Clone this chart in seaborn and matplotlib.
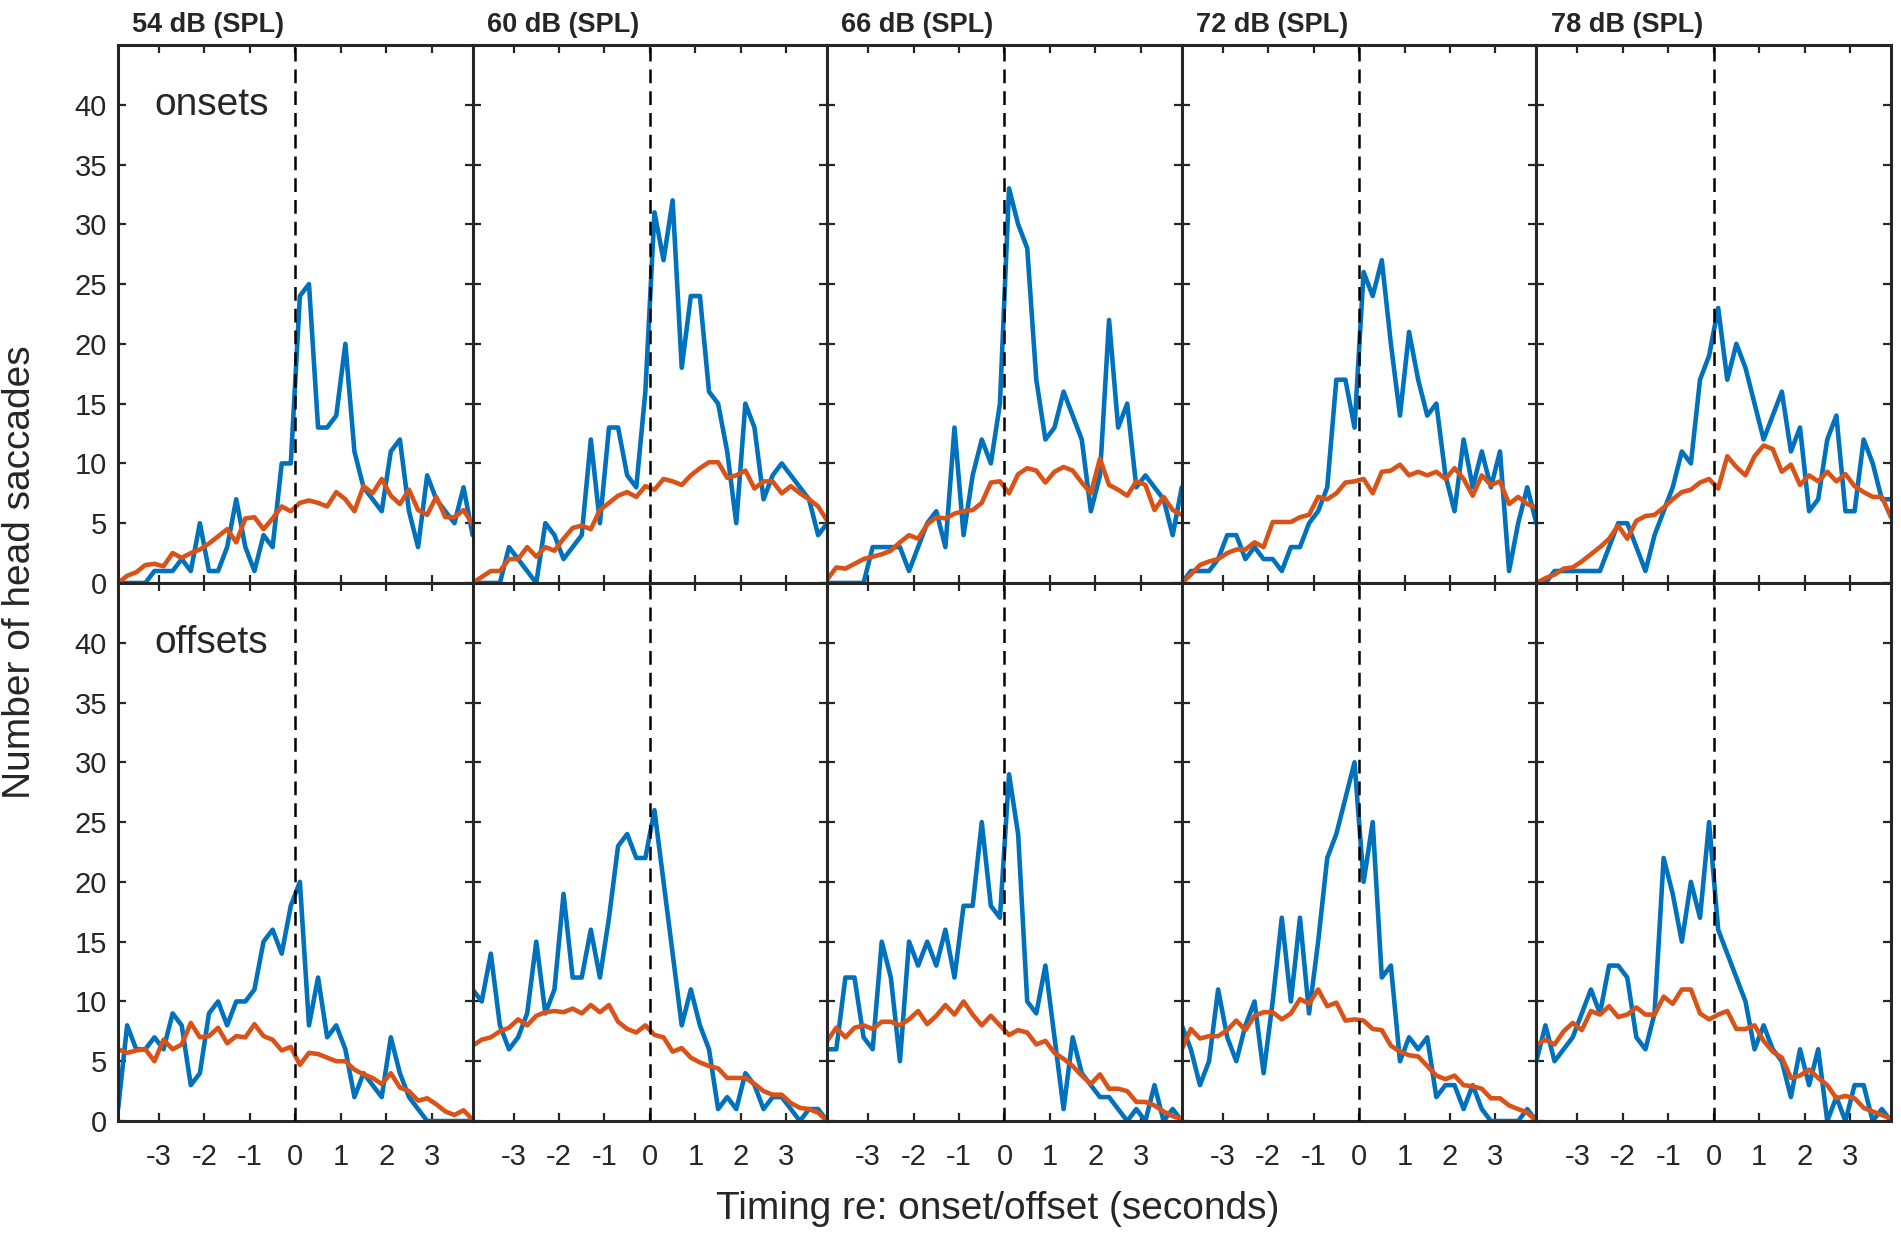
import numpy as np
import pandas as pd
import matplotlib
matplotlib.use("Agg")
import matplotlib.pyplot as plt
import seaborn as sns

# sound levels (one column each)
levels = ["54 dB (SPL)", "60 dB (SPL)", "66 dB (SPL)", "72 dB (SPL)", "78 dB (SPL)"]
row_names = ["onsets", "offsets"]

# bin centres, seconds re onset/offset
time_bins = np.round(np.arange(-3.9, 3.95, 0.2), 1)
x_ticks = [-3, -2, -1, 0, 1, 2, 3]
y_ticks = [0, 5, 10, 15, 20, 25, 30, 35, 40]

# onsets, observed counts (blue)
onset_blue_54 = [0, 0, 0, 0, 1, 1, 1, 2, 1, 5, 1, 1, 3, 7, 3, 1, 4, 3, 10, 10,
                 24, 25, 13, 13, 14, 20, 11, 8, 7, 6, 11, 12, 6, 3, 9, 7, 6, 5, 8, 4]
onset_blue_60 = [0, 0, 0, 0, 3, 2, 1, 0, 5, 4, 2, 3, 4, 12, 5, 13, 13, 9, 8, 16,
                 31, 27, 32, 18, 24, 24, 16, 15, 11, 5, 15, 13, 7, 9, 10, 9, 8, 7, 4, 5]
onset_blue_66 = [0, 0, 0, 0, 0, 3, 3, 3, 3, 1, 3, 5, 6, 3, 13, 4, 9, 12, 10, 15,
                 33, 30, 28, 17, 12, 13, 16, 14, 12, 6, 9, 22, 13, 15, 8, 9, 8, 7, 4, 8]
onset_blue_72 = [0, 1, 1, 1, 2, 4, 4, 2, 3, 2, 2, 1, 3, 3, 5, 6, 8, 17, 17, 13,
                 26, 24, 27, 20, 14, 21, 17, 14, 15, 9, 6, 12, 8, 11, 8, 11, 1, 5, 8, 5]
onset_blue_78 = [0, 0, 1, 1, 1, 1, 1, 1, 3, 5, 5, 3, 1, 4, 6, 8, 11, 10, 17, 19,
                 23, 17, 20, 18, 15, 12, 14, 16, 11, 13, 6, 7, 12, 14, 6, 6, 12, 10, 7, 7]

# onsets, shuffled / chance estimate (orange)
onset_orange_54 = [0, 0.6, 0.9, 1.5, 1.6, 1.4, 2.5, 2.1, 2.5, 2.8, 3.3, 3.9, 4.5, 3.4, 5.4, 5.5, 4.5, 5.4, 6.4, 6,
                   6.7, 6.9, 6.7, 6.4, 7.6, 7, 6, 8.1, 7.5, 8.7, 7.3, 6.6, 7.8, 6.1, 5.7, 7.2, 5.5, 5.5, 6.1, 4.9]
onset_orange_60 = [0, 0.5, 1, 1, 2, 2, 3, 2.2, 3, 2.7, 3.7, 4.6, 4.8, 4.5, 6.1, 6.7, 7.3, 7.6, 7.2, 8.1,
                   7.8, 8.7, 8.5, 8.2, 9, 9.6, 10.1, 10.1, 8.8, 9, 9.4, 7.9, 8.5, 8.5, 7.5, 8.1, 7.5, 7, 6.4, 5.2]
onset_orange_66 = [0.3, 1.3, 1.2, 1.6, 2, 2.2, 2.4, 2.7, 3.4, 4, 3.7, 4.9, 5.5, 5.4, 5.8, 6, 6.1, 6.7, 8.4, 8.5,
                   7.5, 9.1, 9.6, 9.4, 8.4, 9.3, 9.7, 9.4, 8.4, 7.5, 10.4, 8.2, 7.8, 7.3, 8.5, 8.2, 6.1, 7.2, 6.1, 5.7]
onset_orange_72 = [0, 0.7, 1.5, 1.8, 2, 2.5, 2.8, 2.8, 3.4, 3, 5.1, 5.1, 5.1, 5.5, 5.7, 7.2, 7, 7.5, 8.4, 8.5,
                   8.7, 7.5, 9.3, 9.4, 9.9, 9, 9.3, 9, 9.3, 8.7, 9.6, 8.7, 7.3, 9, 8.2, 8.5, 6.6, 7.2, 6.6, 6.3]
onset_orange_78 = [0, 0.4, 0.7, 1.2, 1.3, 1.8, 2.4, 3, 3.7, 4.8, 3.7, 5.2, 5.6, 5.7, 6.3, 7, 7.6, 7.8, 8.4, 8.7,
                   7.9, 10.6, 9.7, 9, 10.6, 11.5, 11.2, 9.3, 9.9, 8.2, 9, 8.5, 9.3, 8.5, 9.1, 8.1, 7.6, 7.2, 7.2, 5.5]

# offsets, observed counts (blue)
offset_blue_54 = [1, 8, 6, 6, 7, 6, 9, 8, 3, 4, 9, 10, 8, 10, 10, 11, 15, 16, 14, 18,
                  20, 8, 12, 7, 8, 6, 2, 4, 3, 2, 7, 4, 2, 1, 0, 0, 0, 0, 0, 0]
offset_blue_60 = [11, 10, 14, 8, 6, 7, 9, 15, 9, 11, 19, 12, 12, 16, 12, 17, 23, 24, 22, 22,
                  26, 20, 14, 8, 11, 8, 6, 1, 2, 1, 4, 3, 1, 2, 2, 1, 0, 1, 1, 0]
offset_blue_66 = [6, 6, 12, 12, 7, 6, 15, 12, 5, 15, 13, 15, 13, 16, 12, 18, 18, 25, 18, 17,
                  29, 24, 10, 9, 13, 7, 1, 7, 4, 3, 2, 2, 1, 0, 1, 0, 3, 0, 1, 0]
offset_blue_72 = [8, 6, 3, 5, 11, 7, 5, 8, 10, 4, 10, 17, 10, 17, 9, 15, 22, 24, 27, 30,
                  20, 25, 12, 13, 5, 7, 6, 7, 2, 3, 3, 1, 3, 1, 0, 0, 0, 0, 1, 0]
offset_blue_78 = [5, 8, 5, 6, 7, 9, 11, 9, 13, 13, 12, 7, 6, 9, 22, 19, 15, 20, 17, 25,
                  16, 14, 12, 10, 6, 8, 6, 5, 2, 6, 3, 6, 0, 2, 0, 3, 3, 0, 1, 0]

# offsets, shuffled / chance estimate (orange)
offset_orange_54 = [6, 5.7, 5.9, 6, 5, 6.8, 6, 6.4, 8.2, 7, 7.1, 7.8, 6.5, 7.1, 7, 8.1, 7.1, 6.8, 5.9, 6.2,
                    4.7, 5.7, 5.6, 5.3, 5, 5, 4.3, 3.9, 3.6, 3.1, 4, 2.8, 2.5, 1.7, 1.9, 1.4, 0.8, 0.5, 0.9, 0.1]
offset_orange_60 = [6.3, 6.8, 7, 7.5, 7.8, 8.5, 8, 8.8, 9.1, 9.2, 9.1, 9.4, 9, 9.7, 9.1, 9.7, 8.3, 7.7, 7.4, 8,
                    7.2, 7, 5.8, 6.1, 5.3, 4.9, 4.6, 4.4, 3.6, 3.6, 3.6, 3.1, 2.5, 2.2, 2.2, 1.5, 1.1, 1, 0.7, 0]
offset_orange_66 = [6.7, 7.8, 7, 7.8, 8, 7.7, 8.3, 8.3, 8, 8.5, 9.2, 8.1, 8.8, 9.7, 8.9, 10, 8.9, 8, 8.8, 8,
                    7.2, 7.6, 7.4, 6.4, 6.7, 5.7, 5.2, 4.6, 3.8, 3.1, 3.9, 2.7, 2.7, 2.5, 1.6, 1.6, 1.3, 0.8, 0.4, 0.2]
offset_orange_72 = [6, 7.7, 6.9, 7.1, 7.1, 7.6, 8.4, 7.6, 8.8, 9.1, 9.1, 8.5, 9, 10.2, 9.8, 11, 9.6, 9.9, 8.4, 8.5,
                    8.4, 7.7, 7.6, 6.3, 5.8, 5.5, 5.4, 4.6, 3.8, 3.5, 3.8, 3, 2.9, 2.7, 1.9, 1.9, 1.3, 1, 0.7, 0]
offset_orange_78 = [6.4, 6.8, 6.4, 7.5, 8.2, 7.6, 9.2, 8.9, 9.6, 8.7, 8.9, 9.5, 8.9, 8.9, 10.4, 9.8, 11, 11, 9, 8.5,
                    8.9, 9.2, 7.7, 7.7, 8, 6.7, 5.8, 5.3, 3.6, 3.8, 4.3, 3.6, 3, 1.9, 2.1, 1.9, 1.1, 0.8, 0.5, 0.2]

blue_rows = [[onset_blue_54, onset_blue_60, onset_blue_66, onset_blue_72, onset_blue_78],
             [offset_blue_54, offset_blue_60, offset_blue_66, offset_blue_72, offset_blue_78]]
orange_rows = [[onset_orange_54, onset_orange_60, onset_orange_66, onset_orange_72, onset_orange_78],
               [offset_orange_54, offset_orange_60, offset_orange_66, offset_orange_72, offset_orange_78]]

BLUE = "#0072BD"
ORANGE = "#D95319"
FRAME = "#262626"

sns.set_style("ticks")
plt.rcParams["font.family"] = ["Liberation Sans", "DejaVu Sans"]
plt.rcParams["axes.unicode_minus"] = False

fig, axes = plt.subplots(2, 5, figsize=(19.01, 12.38), dpi=100, sharex=True, sharey=True)
fig.subplots_adjust(left=0.0621, right=0.9947, top=0.9637, bottom=0.0945, wspace=0, hspace=0)

for r in range(2):
    for c in range(5):
        ax = axes[r, c]
        sns.lineplot(x=time_bins, y=blue_rows[r][c], color=BLUE, lw=3.3, ax=ax, zorder=2)
        sns.lineplot(x=time_bins, y=orange_rows[r][c], color=ORANGE, lw=3.3, ax=ax, zorder=2.5)
        ax.axvline(0, color="black", lw=1.8, ls=(0, (5.5, 3.2)), zorder=3)

        ax.set_xlim(-3.9, 3.9)
        ax.set_ylim(0, 45)
        ax.set_xticks(x_ticks)
        ax.set_yticks(y_ticks)
        ax.tick_params(direction="in", length=6, width=1.6, color=FRAME,
                       top=True, right=True, labelsize=21)
        ax.tick_params(axis="x", pad=16)
        ax.tick_params(axis="y", pad=8)
        for sp in ax.spines.values():
            sp.set_visible(True)
            sp.set_linewidth(2.2)
            sp.set_color(FRAME)
        ax.set_xlabel("")
        ax.set_ylabel("")

        if r == 0:
            # titles sit left of centre in the original
            ax.text(0.04, 1.012, levels[c], transform=ax.transAxes, fontsize=19.5,
                    fontweight="bold", ha="left", va="bottom")
        if c == 0:
            ax.text(-3.1, 40, row_names[r], fontsize=28, va="center", ha="left")

fig.text(0.0105, 0.538, "Number of head saccades", rotation=90,
         va="center", ha="center", fontsize=28)
fig.text(0.525, 0.0234, "Timing re: onset/offset (seconds)",
         va="center", ha="center", fontsize=28)

fig.savefig("out.png", dpi=100)
